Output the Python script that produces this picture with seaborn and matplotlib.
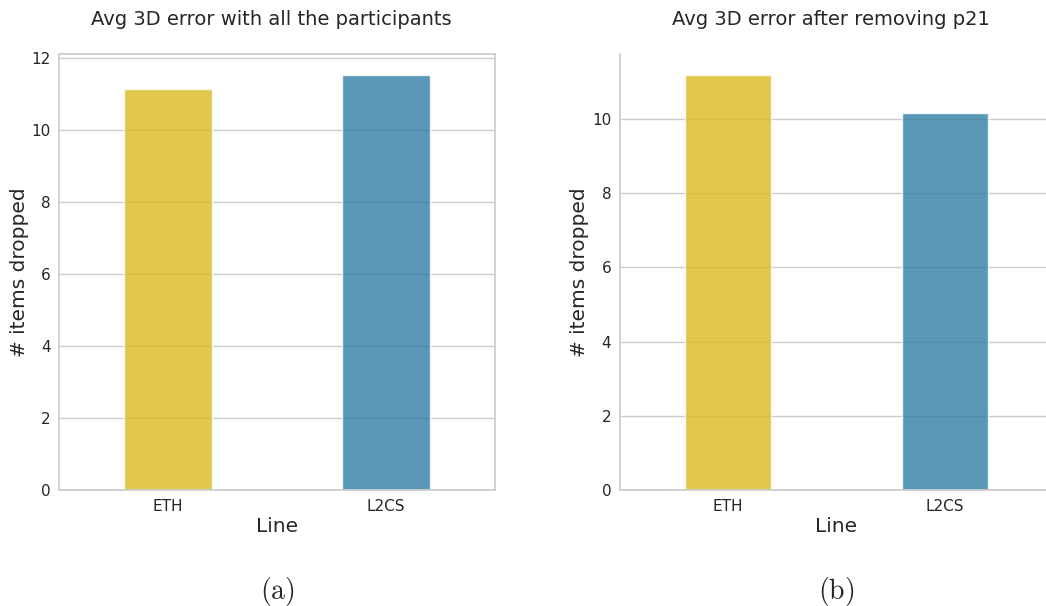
import matplotlib
matplotlib.use("Agg")
import matplotlib.pyplot as plt
import seaborn as sns
import pandas as pd

# Average 3D gaze error per method
methods = ["ETH", "L2CS"]
err_all = [11.14, 11.53]
err_no_p21 = [11.19, 10.16]
titles = ["Avg 3D error with all the participants", "Avg 3D error after removing p21"]
captions = [r"$\mathrm{(a)}$", r"$\mathrm{(b)}$"]
bar_colors = ["#DBB921", "#317EA5"]

sns.set_theme(style="whitegrid")
plt.rcParams["font.family"] = ["DejaVu Sans"]
plt.rcParams["mathtext.fontset"] = "cm"

fig = plt.figure(figsize=(10.46, 6.06), dpi=100)
W, H = 1046, 606
ax1 = fig.add_axes([59 / W, (H - 490) / H, 436 / W, 436 / H])
ax2 = fig.add_axes([619.5 / W, (H - 490) / H, 434 / W, 436 / H])

for ax, vals, title, cap in zip([ax1, ax2], [err_all, err_no_p21], titles, captions):
    df = pd.DataFrame({"Line": methods, "err": vals})
    sns.barplot(data=df, x="Line", y="err", hue="Line", palette=bar_colors,
                width=0.4, alpha=0.8, saturation=1, legend=False, ax=ax)
    ax.set_title(title, fontsize=14, pad=21, x=0.487, color="#262626")
    ax.set_xlabel("Line", fontsize=14.5, color="#262626", labelpad=2)
    ax.set_ylabel("# items dropped", fontsize=14.5, color="#262626", labelpad=2)
    ax.tick_params(axis="x", labelsize=11, colors="#262626", pad=0.5)
    ax.tick_params(axis="y", labelsize=11, colors="#262626", pad=0)
    ax.grid(axis="x", visible=False)
    ax.set_ylim(0, max(vals) * 1.05)
    ax.text(0.5, -0.232, cap, transform=ax.transAxes, ha="center", va="center",
            fontsize=20)

ax1.set_yticks([0, 2, 4, 6, 8, 10, 12])
ax2.set_yticks([0, 2, 4, 6, 8, 10])
sns.despine(ax=ax2)

fig.savefig("out.png", dpi=100)
